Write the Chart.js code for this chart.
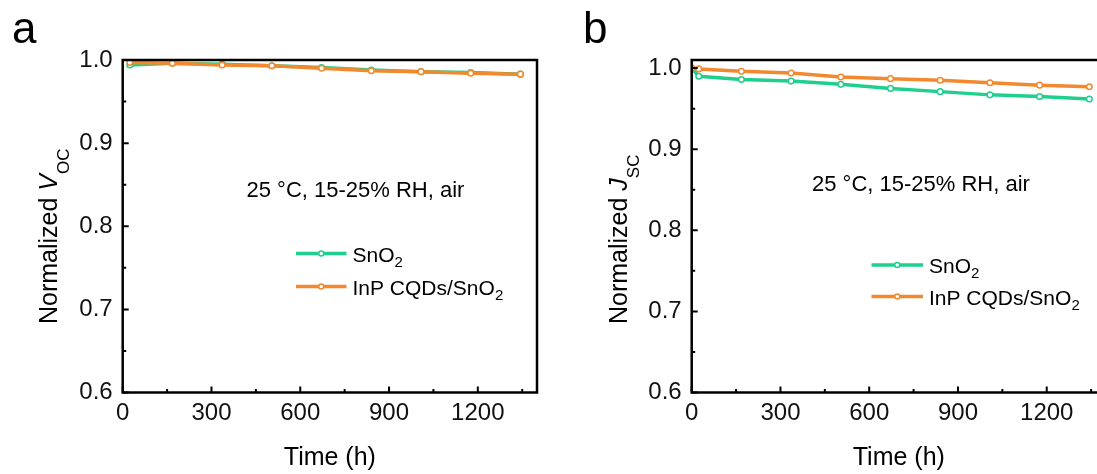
<!DOCTYPE html>
<html>
<head>
<meta charset="utf-8">
<script src="https://cdn.jsdelivr.net/npm/chart.js@4.4.1/dist/chart.umd.min.js"></script>
<style>
  html, body { margin: 0; padding: 0; background: #fff; overflow: hidden; }
  #wrap { position: relative; width: 1097px; height: 474px; overflow: hidden; }
  .panel { position: absolute; top: 0; width: 560px; height: 474px; }
  #panelA { left: 0; }
  #panelB { left: 560px; }
</style>
</head>
<body>
<div id="wrap">
  <div class="panel" id="panelA"><canvas id="vocChart" width="560" height="474"></canvas></div>
  <div class="panel" id="panelB"><canvas id="jscChart" width="560" height="474"></canvas></div>
</div>
<script>
// ---- data ----
const timeVoc = [24, 168, 336, 504, 672, 840, 1008, 1176, 1344];
const vocSnO2 = [0.994, 0.996, 0.995, 0.993, 0.991, 0.988, 0.986, 0.985, 0.983];
const vocInP  = [0.997, 0.996, 0.994, 0.993, 0.990, 0.987, 0.986, 0.984, 0.983];

const timeJsc = [0, 24, 168, 336, 504, 672, 840, 1008, 1176, 1344];
const jscSnO2 = [1.000, 0.990, 0.986, 0.984, 0.980, 0.975, 0.971, 0.967, 0.965, 0.962];
const jscInP  = [1.000, 0.999, 0.996, 0.994, 0.989, 0.987, 0.985, 0.982, 0.979, 0.977];

const xTicks = [0, 300, 600, 900, 1200];
const xMinor = [150, 450, 750, 1050, 1350];
const yTicks = [0.6, 0.7, 0.8, 0.9, 1.0];
const yMinor = [0.65, 0.75, 0.85, 0.95];

const seriesNames = ['SnO', 'InP CQDs/SnO'];   // subscript "2" added when drawn
const note = '25 \u00B0C, 15-25% RH, air';

const GREEN = '#1fcf8d';
const ORANGE = '#f2892e';
const FONT = "'Liberation Sans', Arial, sans-serif";

// draw a run of text pieces (with sub-scripts) left to right
function drawParts(ctx, parts, x, y) {
  parts.forEach(p => {
    ctx.font = p.font;
    ctx.fillText(p.t, x, y + (p.dy || 0));
    x += ctx.measureText(p.t).width;
  });
}

// frame, inward ticks, legend, note, titles
const panelDeco = {
  id: 'panelDeco',
  afterDraw(chart, args, o) {
    const ctx = chart.ctx;
    const a = chart.chartArea;
    const xs = chart.scales.x, ys = chart.scales.y;
    ctx.save();
    ctx.strokeStyle = '#000';
    ctx.fillStyle = '#000';

    // inward ticks
    ctx.lineWidth = 2;
    ctx.beginPath();
    xTicks.forEach(v => { const px = xs.getPixelForValue(v); ctx.moveTo(px, a.bottom); ctx.lineTo(px, a.bottom - 6); });
    xMinor.forEach(v => { const px = xs.getPixelForValue(v); ctx.moveTo(px, a.bottom); ctx.lineTo(px, a.bottom - 3.5); });
    yTicks.forEach(v => { const py = ys.getPixelForValue(v); ctx.moveTo(a.left, py); ctx.lineTo(a.left + 6, py); });
    yMinor.forEach(v => { const py = ys.getPixelForValue(v); ctx.moveTo(a.left, py); ctx.lineTo(a.left + 3.5, py); });
    ctx.stroke();

    // frame
    ctx.lineWidth = 2.5;
    ctx.strokeRect(a.left, a.top, a.right - a.left, a.bottom - a.top);

    // legend
    const colors = [GREEN, ORANGE];
    o.legendY.forEach((ly, i) => {
      ctx.strokeStyle = colors[i];
      ctx.lineWidth = 3.5;
      ctx.beginPath();
      ctx.moveTo(o.legendX[0], ly);
      ctx.lineTo(o.legendX[1], ly);
      ctx.stroke();
      ctx.beginPath();
      ctx.arc((o.legendX[0] + o.legendX[1]) / 2, ly, 2.5, 0, Math.PI * 2);
      ctx.fillStyle = '#fff';
      ctx.fill();
      ctx.lineWidth = 1.5;
      ctx.stroke();
      ctx.fillStyle = '#000';
      drawParts(ctx, [
        { t: seriesNames[i], font: '21px ' + FONT },
        { t: '2', font: '15px ' + FONT, dy: 5 }
      ], o.legendX[1] + 6, ly + 8);
    });

    // condition note
    ctx.font = '22px ' + FONT;
    ctx.fillText(note, o.noteX, o.noteY);

    // x title
    ctx.textAlign = 'center';
    ctx.font = '25px ' + FONT;
    ctx.fillText('Time (h)', (a.left + a.right) / 2, 465);

    // panel letter
    ctx.textAlign = 'left';
    ctx.font = '44px ' + FONT;
    ctx.fillText(o.letter, o.letterX, 43);

    // y title (rotated, italic symbol + subscript)
    ctx.translate(o.titleX, 324);
    ctx.rotate(-Math.PI / 2);
    drawParts(ctx, [
      { t: 'Normalized ', font: '25px ' + FONT },
      { t: o.sym, font: 'italic 25px ' + FONT },
      { t: o.sub, font: '17px ' + FONT, dy: 12 }
    ], 0, 0);
    ctx.restore();
  }
};

function makePanel(canvasId, time, snData, inpData, deco) {
  return new Chart(document.getElementById(canvasId).getContext('2d'), {
    type: 'line',
    data: {
      datasets: [
        {
          label: 'SnO2',
          data: time.map((t, i) => ({ x: t, y: snData[i] })),
          borderColor: GREEN,
          backgroundColor: '#fff',
          borderWidth: 3.5,
          pointRadius: 2.8,
          pointBorderWidth: 1.5,
          tension: 0,
          order: 1
        },
        {
          label: 'InP CQDs/SnO2',
          data: time.map((t, i) => ({ x: t, y: inpData[i] })),
          borderColor: ORANGE,
          backgroundColor: '#fff',
          borderWidth: 3.5,
          pointRadius: 2.8,
          pointBorderWidth: 1.5,
          tension: 0,
          order: 0
        }
      ]
    },
    options: {
      responsive: false,
      animation: false,
      layout: { padding: { left: deco.padLeft, right: deco.padRight, top: 60, bottom: 0 } },
      plugins: {
        legend: { display: false },
        tooltip: { enabled: false },
        panelDeco: deco
      },
      scales: {
        x: {
          type: 'linear',
          min: 0,
          max: 1400,
          afterBuildTicks: s => { s.ticks = xTicks.map(v => ({ value: v })); },
          afterFit: s => { s.height = 81.5; },
          grid: { display: false, drawTicks: false },
          border: { display: false },
          ticks: {
            padding: 6,
            color: '#111',
            maxRotation: 0,
            autoSkip: false,
            font: { family: FONT, size: 24 },
            callback: v => String(v)
          }
        },
        y: {
          min: 0.6,
          max: deco.yMax,
          afterBuildTicks: s => { s.ticks = yTicks.map(v => ({ value: v })); },
          afterFit: s => { s.width = 60; },
          grid: { display: false, drawTicks: false },
          border: { display: false },
          ticks: {
            padding: 10,
            color: '#111',
            font: { family: FONT, size: 24 },
            callback: v => Number(v).toFixed(1)
          }
        }
      }
    },
    plugins: [panelDeco]
  });
}

// ========== PANEL a: Voc ==========
makePanel('vocChart', timeVoc, vocSnO2, vocInP, {
  padLeft: 62.7, padRight: 23, yMax: 1.0,
  legendX: [296, 346.5], legendY: [253.5, 286.5],
  noteX: 246.5, noteY: 196.5,
  letter: 'a', letterX: 12,
  titleX: 57, sym: 'V', sub: 'OC'
});

// ========== PANEL b: Jsc ==========
makePanel('jscChart', timeJsc, jscSnO2, jscInP, {
  padLeft: 71.7, padRight: 14.1, yMax: 1.01,
  legendX: [311.5, 363], legendY: [265, 296.5],
  noteX: 252, noteY: 190.5,
  letter: 'b', letterX: 23,
  titleX: 66.5, sym: 'J', sub: 'SC'
});
</script>
</body>
</html>
